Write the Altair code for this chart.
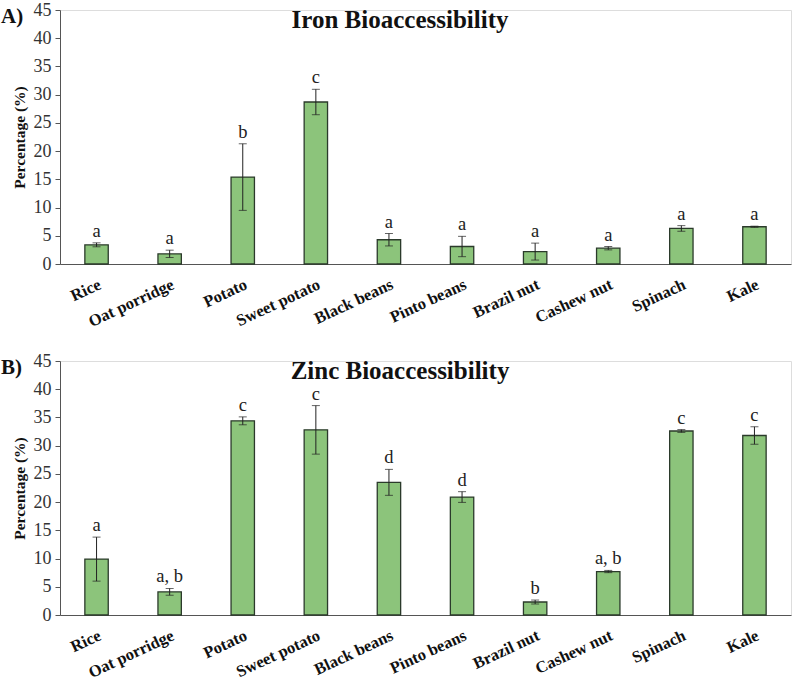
import altair as alt
import pandas as pd

foods = ["Rice", "Oat porridge", "Potato", "Sweet potato", "Black beans",
         "Pinto beans", "Brazil nut", "Cashew nut", "Spinach", "Kale"]

iron_mean = [3.4, 1.8, 15.4, 28.7, 4.3, 3.1, 2.2, 2.8, 6.3, 6.6]
iron_err = [0.35, 0.65, 5.9, 2.25, 1.1, 1.8, 1.5, 0.3, 0.5, 0.1]
iron_letters = ["a", "a", "b", "c", "a", "a", "a", "a", "a", "a"]

zinc_mean = [9.9, 4.1, 34.4, 32.8, 23.5, 20.9, 2.3, 7.7, 32.6, 31.8]
zinc_err = [3.9, 0.6, 0.7, 4.3, 2.3, 0.95, 0.35, 0.2, 0.25, 1.55]
zinc_letters = ["a", "a, b", "c", "c", "d", "d", "b", "a, b", "c", "c"]

y_ticks = [0, 5, 10, 15, 20, 25, 30, 35, 40, 45]

SERIF = "Liberation Serif"
FILL = "#8cc47b"
EDGE = "#2b3a2b"

X_AXIS = alt.Axis(labelAngle=-25, labelFont=SERIF, labelFontWeight="bold",
                  labelFontSize=16.5, labelColor="#111", ticks=False,
                  labelPadding=12, domainColor="#555", domainWidth=1.2,
                  labelOverlap=False)
Y_AXIS = alt.Axis(values=y_ticks, grid=False, labelFont=SERIF,
                  labelFontSize=18, labelColor="#333",
                  labelOverlap=False, labelFlush=False,
                  titleFont=SERIF, titleFontSize=15.5,
                  titleFontWeight="bold", titleColor="#111",
                  titlePadding=6, tickSize=5, tickColor="#555",
                  domainColor="#555", labelPadding=4)
Y_SCALE = alt.Scale(domain=[0, 45], nice=False)


def xenc():
    return alt.X("food:N", sort=foods, title=None, axis=X_AXIS,
                 scale=alt.Scale(paddingInner=0.68, paddingOuter=0.34))


def yenc(field):
    return alt.Y(field, scale=Y_SCALE, axis=Y_AXIS, title="Percentage (%)")


def panel(tag, title, means, errs, letters):
    df = pd.DataFrame({
        "food": foods,
        "mean": means,
        "lo": [m - e for m, e in zip(means, errs)],
        "hi": [m + e for m, e in zip(means, errs)],
        "letter": letters,
    })
    base = alt.Chart(df)
    bars = base.mark_bar(color=FILL, stroke=EDGE, strokeWidth=1.3).encode(
        x=xenc(), y=yenc("mean:Q")
    )
    whisker = base.mark_rule(color="#222", strokeWidth=1).encode(
        x=xenc(), y=yenc("lo:Q"), y2="hi:Q"
    )
    cap_lo = base.mark_tick(color="#222", size=8, thickness=1).encode(
        x=xenc(), y=yenc("lo:Q")
    )
    cap_hi = base.mark_tick(color="#222", size=8, thickness=1).encode(
        x=xenc(), y=yenc("hi:Q")
    )
    marks = base.mark_text(font=SERIF, fontSize=18.5, color="#222",
                           baseline="bottom", dy=-2).encode(
        x=xenc(), y=yenc("hi:Q"), text="letter:N"
    )
    head = alt.Chart(pd.DataFrame({"t": [title]})).mark_text(
        font=SERIF, fontSize=25, fontWeight="bold", color="#111",
        align="center", baseline="middle",
    ).encode(text="t:N", x=alt.value(340), y=alt.value(10))
    label = alt.Chart(pd.DataFrame({"t": [tag]})).mark_text(
        font=SERIF, fontSize=21, fontWeight="bold", color="#111",
        align="left", baseline="middle",
    ).encode(text="t:N", x=alt.value(-59), y=alt.value(7))
    return alt.layer(bars, whisker, cap_lo, cap_hi, marks, head, label).properties(
        width=731, height=254
    )


chart = alt.vconcat(
    panel("A)", "Iron Bioaccessibility", iron_mean, iron_err, iron_letters),
    panel("B)", "Zinc Bioaccessibility", zinc_mean, zinc_err, zinc_letters),
    spacing=20,
).properties(padding={"left": 0, "top": 0, "right": 0, "bottom": 0}).configure_view(
    stroke=None
).configure(background="white")

chart.save("out.html", embed_options={"renderer": "svg", "actions": False})
